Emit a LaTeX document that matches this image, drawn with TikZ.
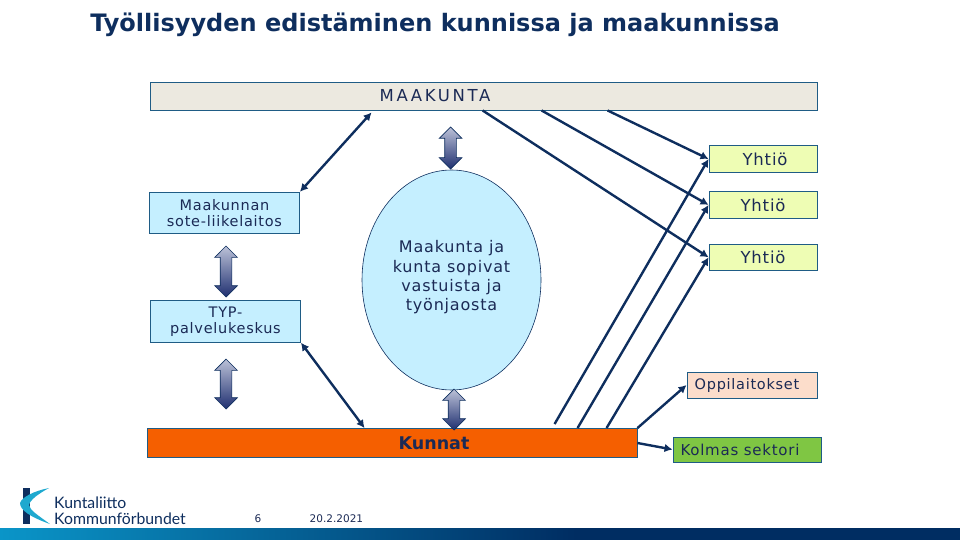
\documentclass[tikz,border=0pt]{standalone}
\usepackage{fontspec}
\setmainfont{DejaVu Sans}
\newfontfamily\logofont{Lato}
\newfontfamily\spaced[LetterSpace=5]{DejaVu Sans}
\newfontfamily\spacedwide[LetterSpace=16]{DejaVu Sans}
\usepackage{xcolor}
\usetikzlibrary{shapes.geometric,shapes.arrows,arrows.meta,positioning,calc}
\definecolor{navy}{HTML}{0E2E5E}
\definecolor{inktext}{HTML}{1B2A55}
\definecolor{boxline}{HTML}{1F5C85}
\definecolor{sand}{HTML}{ECE9E0}
\definecolor{paleblue}{HTML}{C5EFFF}
\definecolor{palelime}{HTML}{EEFDB4}
\definecolor{peach}{HTML}{FCDDCB}
\definecolor{leaf}{HTML}{7FC643}
\definecolor{kunnatfill}{HTML}{F55F00}
\definecolor{arrowtop}{HTML}{BCC2D8}
\definecolor{arrowbottom}{HTML}{1F2F70}
\definecolor{barleft}{HTML}{0A95C8}
\definecolor{barright}{HTML}{002D62}
\definecolor{logocyan}{HTML}{1FA9CF}
\pgfdeclarehorizontalshading{footerbar}{100bp}{color(0bp)=(barleft); color(25bp)=(barleft); color(55bp)=(barright); color(100bp)=(barright)}

\begin{document}
\begin{tikzpicture}[
    x=1pt,y=-1pt,
    box/.style={draw=boxline,line width=0.9pt,inner sep=0pt,align=center,text=inktext,font=\spaced\fontsize{14.5}{16}\selectfont},
    region/.style={box,minimum width=667pt,minimum height=28pt,fill=sand,font=\spacedwide\fontsize{16.5}{18}\selectfont},
    company/.style={box,minimum width=108pt,minimum height=26.5pt,fill=palelime,font=\spaced\fontsize{16.5}{18}\selectfont},
    unit/.style={box,minimum width=150pt,minimum height=41.5pt,fill=paleblue},
    link/.style={draw=navy,line width=2.4pt,-{Latex[length=8pt,width=8.5pt]}},
    bothlink/.style={link,{Latex[length=8pt,width=8.5pt]}-{Latex[length=8pt,width=8.5pt]}},
    flowarrow/.style={draw=navy,line width=0.7pt,double arrow,shape border rotate=90,minimum width=22pt,inner sep=5.5pt,
        double arrow head extend=5.5pt,double arrow tip angle=90,top color=arrowtop,bottom color=arrowbottom},
]
\useasboundingbox (0,0) rectangle (960,540);

\node[font=\fontsize{24}{28}\bfseries\selectfont,text=navy,inner sep=0pt] (title) at (435,25) {Työllisyyden edistäminen kunnissa ja maakunnissa};

\node[region] (maakunta) at (483.5,96) {MAAKUNTA\hspace*{97pt}};
\node[box,minimum width=490pt,minimum height=29pt,fill=kunnatfill,font=\fontsize{17.5}{18}\bfseries\selectfont] (kunnat) at (392,443) {\hspace*{84pt}Kunnat};

\node[company] (yhtioa) at (763,159) {\hspace*{4pt}Yhtiö};
\node[company,below=18.5pt of yhtioa] (yhtiob) {Yhtiö};
\node[company,below=25pt of yhtiob] (yhtioc) {Yhtiö};

\node[unit] (sote) at (224.5,213) {Maakunnan\\sote-liikelaitos};
\node[unit] (typ) at (225.5,321.5) {TYP-\\palvelukeskus};

\node[ellipse,draw=navy,line width=0.6pt,fill=paleblue,minimum width=179pt,minimum height=220pt,inner sep=0pt,align=center,
    text=inktext,font=\spaced\fontsize{16}{19.3}\selectfont] (sopimus) at (451.5,280) {Maakunta ja\\kunta sopivat\\vastuista ja\\työnjaosta\\[-11pt]};

\node[box,minimum width=130pt,minimum height=26pt,fill=peach] (oppi) at (752,385) {Oppilaitokset\hspace*{10pt}};
\node[box,minimum width=148pt,minimum height=25pt,fill=leaf,font=\spaced\fontsize{15}{18}\selectfont] (kolmas) at (747,449.5) {Kolmas sektori\hspace*{14pt}};

% block arrows
\node[flowarrow,minimum height=42pt] (nuolia) at (450.5,148) {};
\node[flowarrow,minimum height=51pt] (nuolib) at (226,271.5) {};
\node[flowarrow,minimum height=50pt] (nuolic) at (226,384) {};
\node[flowarrow,minimum height=41pt] (nuolid) at (454,409.5) {};

\draw[link] ([xshift=458pt]maakunta.south west) -- (yhtioa.west);
\draw[link] ([xshift=392pt]maakunta.south west) -- (yhtiob.west);
\draw[link] ([xshift=333pt]maakunta.south west) -- (yhtioc.west);
\draw[link] ([xshift=408pt,yshift=4pt]kunnat.north west) -- (yhtioa.west);
\draw[link] ([xshift=431pt]kunnat.north west) -- (yhtiob.west);
\draw[link] ([xshift=460pt]kunnat.north west) -- (yhtioc.west);
\draw[link] (kunnat.north east) -- (oppi.west);
\draw[link] (kunnat.east) -- (kolmas.west);
\draw[bothlink] (sote.north east) -- ([xshift=222pt,yshift=-2pt]maakunta.south west);
\draw[bothlink] (typ.south east) -- ([xshift=218pt]kunnat.north west);

% footer
\node[inner sep=0pt,minimum width=960pt,minimum height=11pt,shading=footerbar,anchor=south west] (footer) at (0,540) {};
\fill[navy] (23,488) rectangle (30,524);
\fill[logocyan] (49,488) .. controls (34,491) and (22,497) .. (20,503) .. controls (20,510) and (30,517) .. (50,524) .. controls (36,514) and (30,510) .. (29,505) .. controls (30,500) and (38,494) .. (49,488) -- cycle;
\node[text=navy,font=\fontsize{15.8}{16}\logofont,align=left,anchor=west,inner sep=0pt] (logo) at (54,511) {Kuntaliitto\\Kommunförbundet};
\node[font=\fontsize{10.5}{12}\selectfont,text=inktext,inner sep=0pt] (sivu) at (258,519) {6};
\node[font=\fontsize{10.5}{12}\selectfont,text=inktext,inner sep=0pt,right=48pt of sivu] (pvm) {20.2.2021};
\end{tikzpicture}
\end{document}
